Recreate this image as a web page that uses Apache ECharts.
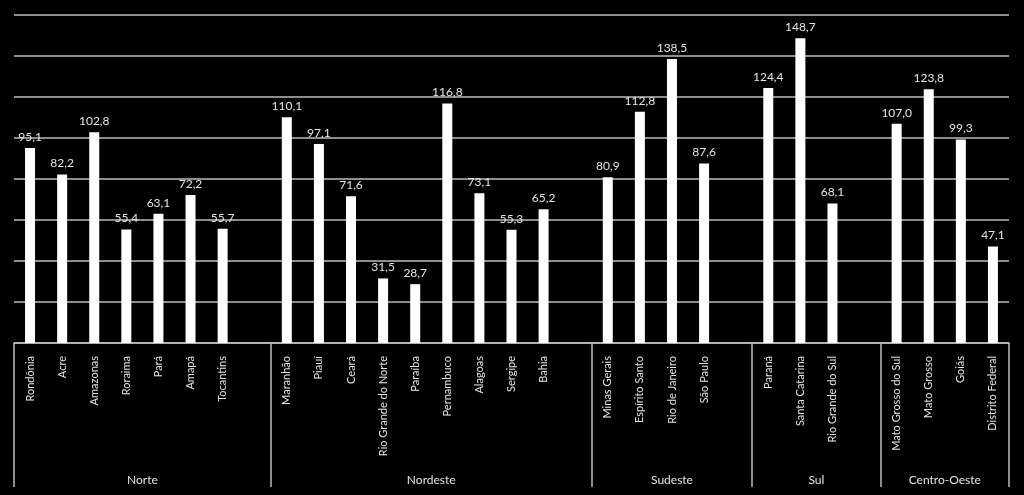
<!DOCTYPE html>
<html><head><meta charset="utf-8">
<script src="https://cdn.jsdelivr.net/npm/echarts@6/dist/echarts.min.js"></script>
<style>html,body{margin:0;padding:0;background:#000;}#c{width:1024px;height:495px;}</style>
</head><body><div id="c"></div>
<script>
// Categories (blank entries separate regions)
const categories = ['Rondônia','Acre','Amazonas','Roraima','Pará','Amapá','Tocantins','',
  'Maranhão','Piauí','Ceará','Rio Grande do Norte','Paraíba','Pernambuco','Alagoas','Sergipe','Bahia','',
  'Minas Gerais','Espírito Santo','Rio de Janeiro','São Paulo','',
  'Paraná','Santa Catarina','Rio Grande do Sul','',
  'Mato Grosso do Sul','Mato Grosso','Goiás','Distrito Federal'];
const values = [95.1,82.2,102.8,55.4,63.1,72.2,55.7,null,
  110.1,97.1,71.6,31.5,28.7,116.8,73.1,55.3,65.2,null,
  80.9,112.8,138.5,87.6,null,
  124.4,148.7,68.1,null,
  107.0,123.8,99.3,47.1];
const groups = ['Norte','Nordeste','Sudeste','Sul','Centro-Oeste'];
const groupBounds = [0,8,18,23,27,31];
const groupCenters = [4,13,20.5,25,29];

const font = "Lato, 'Open Sans', sans-serif";
const txt = '#e4e4e4';
const lineCol = '#bdbdbd';
const chart = echarts.init(document.getElementById('c'));
chart.setOption({
  backgroundColor: '#000',
  animation: false,
  grid: {left: 14, right: 15, top: 15, bottom: 152, containLabel: false},
  xAxis: [{
    type: 'category', data: categories,
    axisLine: {show: true, lineStyle: {color: lineCol, width: 1.5}},
    axisTick: {show: false},
    axisLabel: {interval: 0, rotate: 90, color: txt, fontSize: 11, fontFamily: font, margin: 13},
    splitLine: {show: false}
  }, {
    type: 'value', min: 0, max: 31, position: 'bottom',
    axisLine: {show: false},
    splitLine: {show: false},
    axisTick: {show: true, customValues: groupBounds, length: 144, inside: false, lineStyle: {color: lineCol, width: 1.5}},
    axisLabel: {show: true, customValues: groupCenters, color: txt, fontSize: 12, fontFamily: font, margin: 131,
      formatter: function(v){ const i = groupCenters.indexOf(v); return i >= 0 ? groups[i] : ''; }}
  }],
  yAxis: {
    type: 'value', min: 0, max: 160, interval: 20,
    axisLabel: {show: false}, axisLine: {show: false}, axisTick: {show: false},
    splitLine: {show: true, lineStyle: {color: lineCol, width: 1.5}}
  },
  series: [{
    type: 'bar', data: values, xAxisIndex: 0, barWidth: 10,
    itemStyle: {color: '#ffffff'},
    label: {show: true, position: 'top', distance: 5, color: txt, fontSize: 12, fontFamily: font,
      formatter: function(p){ return p.value == null ? '' : p.value.toFixed(1).replace('.', ','); }}
  }]
});
</script></body></html>
